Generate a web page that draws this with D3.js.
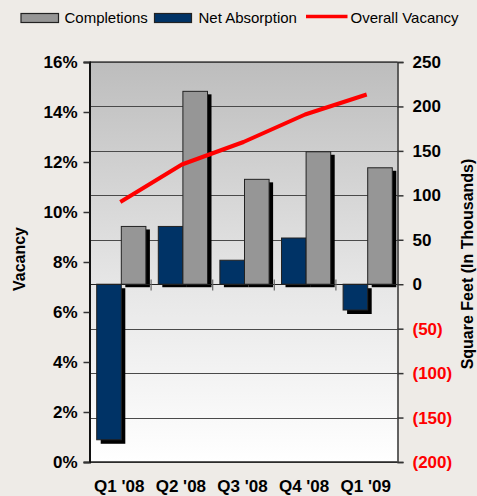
<!DOCTYPE html>
<html>
<head>
<meta charset="utf-8">
<script src="https://cdn.jsdelivr.net/npm/d3@7"></script>
<style>
  html, body { margin: 0; padding: 0; background: #EEEBE7; }
  svg { display: block; font-family: "Liberation Sans", Arial, sans-serif; }
</style>
</head>
<body>
<svg id="chart" width="477" height="496"></svg>
<script>
// ---- data ----
const categories = ["Q1 '08", "Q2 '08", "Q3 '08", "Q4 '08", "Q1 '09"];
const completions = [65, 217, 118, 149, 131];
const netAbsorption = [-175, 65, 27, 52, -29];
const vacancy = [0.104, 0.119, 0.128, 0.139, 0.147];
const leftTicks = [0, 0.02, 0.04, 0.06, 0.08, 0.10, 0.12, 0.14, 0.16];
const rightTicks = [-200, -150, -100, -50, 0, 50, 100, 150, 200, 250];
const seriesNames = ["Completions", "Net Absorption", "Overall Vacancy"];

// ---- layout ----
const svg = d3.select("#chart");
const L = 89.5, R = 397.5, T = 62, B = 462;

const x = d3.scaleBand().domain(categories).range([L, R]).paddingInner(0).paddingOuter(0);
const xi = d3.scaleBand().domain(["net", "comp"]).range([7.2, 56.4]).padding(0);
const yL = d3.scaleLinear().domain([0, 0.16]).range([B, T]);
const yR = d3.scaleLinear().domain([-200, 250]).range([B, T]);

// background gradient
const defs = svg.append("defs");
const grad = defs.append("linearGradient").attr("id", "bg").attr("x1", 0).attr("y1", 0).attr("x2", 0).attr("y2", 1);
grad.append("stop").attr("offset", "0%").attr("stop-color", "#bdbdbd");
grad.append("stop").attr("offset", "55%").attr("stop-color", "#e6e6e6");
grad.append("stop").attr("offset", "100%").attr("stop-color", "#ffffff");

svg.append("rect").attr("x", L).attr("y", T).attr("width", R - L).attr("height", B - T).attr("fill", "url(#bg)");

// gridlines at right-axis ticks
svg.append("g").selectAll("line").data(rightTicks.filter(d => d !== 0)).join("line")
  .attr("x1", L).attr("x2", R)
  .attr("y1", d => Math.round(yR(d)) + 0.5).attr("y2", d => Math.round(yR(d)) + 0.5)
  .attr("stroke", "#4a4a4a").attr("stroke-width", 1);

// bars
const bars = svg.append("g");
const barData = [];
categories.forEach((c, i) => {
  barData.push({ cat: c, key: "net", v: netAbsorption[i], fill: "#003366" });
  barData.push({ cat: c, key: "comp", v: completions[i], fill: "#969696" });
});
barData.forEach(d => {
  const bx = x(d.cat) + xi(d.key);
  const w = xi.bandwidth();
  const y0 = yR(0), y1 = yR(d.v);
  const top = Math.min(y0, y1), h = Math.abs(y1 - y0);
  bars.append("rect").attr("x", bx + 4).attr("y", top + (d.v >= 0 ? 3 : 4)).attr("width", w).attr("height", h)
    .attr("fill", "#000");
  bars.append("rect").attr("x", bx).attr("y", top).attr("width", w).attr("height", h)
    .attr("fill", d.fill).attr("stroke", "#222").attr("stroke-width", 1);
});

// zero (category) axis
const y0 = Math.round(yR(0)) + 0.5;
svg.append("line").attr("x1", L).attr("x2", R).attr("y1", y0).attr("y2", y0).attr("stroke", "#222").attr("stroke-width", 1.2);
svg.append("g").selectAll("line").data(categories.slice(1)).join("line")
  .attr("x1", d => x(d)).attr("x2", d => x(d)).attr("y1", y0 - 5).attr("y2", y0 + 6)
  .attr("stroke", "#666").attr("stroke-width", 1.2);

// plot frame top/bottom
svg.append("line").attr("x1", L).attr("x2", R).attr("y1", T).attr("y2", T).attr("stroke", "#444").attr("stroke-width", 1.5);
svg.append("line").attr("x1", L).attr("x2", R).attr("y1", B).attr("y2", B).attr("stroke", "#222").attr("stroke-width", 1.5);

// vacancy line
const line = d3.line().x((d, i) => x(categories[i]) + x.bandwidth() / 2).y(d => yL(d));
svg.append("path").datum(vacancy).attr("d", line).attr("fill", "none")
  .attr("stroke", "#ff0000").attr("stroke-width", 4).attr("stroke-linejoin", "round");

// left axis
const axL = svg.append("g").attr("transform", `translate(${L},0)`)
  .call(d3.axisLeft(yL).tickValues(leftTicks).tickFormat(d3.format(".0%")).tickSize(6).tickPadding(6));
axL.select(".domain").attr("stroke", "#111").attr("stroke-width", 2);
axL.selectAll(".tick line").attr("stroke", "#333").attr("stroke-width", 1.5);
axL.selectAll(".tick text").attr("font-size", 17).attr("font-weight", "bold").attr("fill", "#000")
  .attr("font-family", "Liberation Sans, Arial, sans-serif");

// right axis
const axR = svg.append("g").attr("transform", `translate(${R},0)`)
  .call(d3.axisRight(yR).tickValues(rightTicks).tickFormat(d => d < 0 ? `(${-d})` : `${d}`).tickSize(6).tickPadding(9));
axR.select(".domain").attr("stroke", "#333").attr("stroke-width", 1.5);
axR.selectAll(".tick line").attr("stroke", "#333").attr("stroke-width", 1.5);
axR.selectAll(".tick text").attr("font-size", 17).attr("font-weight", "bold")
  .attr("fill", d => d < 0 ? "#ff0000" : "#000")
  .attr("font-family", "Liberation Sans, Arial, sans-serif");

// x labels
svg.append("g").selectAll("text").data(categories).join("text")
  .attr("x", d => x(d) + x.bandwidth() / 2 - 1).attr("y", 492)
  .attr("text-anchor", "middle").attr("font-size", 17).attr("font-weight", "bold").attr("fill", "#000")
  .text(d => d);

// axis titles
svg.append("text").attr("transform", "translate(25,259) rotate(-90)")
  .attr("text-anchor", "middle").attr("font-size", 16).attr("font-weight", "bold").text("Vacancy");
svg.append("text").attr("transform", "translate(473,264) rotate(-90)")
  .attr("text-anchor", "middle").attr("font-size", 16).attr("font-weight", "bold").text("Square Feet (In Thousands)");

// legend
const lg = svg.append("g");
lg.append("rect").attr("x", 21).attr("y", 13.5).attr("width", 37.5).attr("height", 9)
  .attr("fill", "#969696").attr("stroke", "#222").attr("stroke-width", 1.2);
lg.append("text").attr("x", 64.5).attr("y", 22.5).attr("font-size", 15).text(seriesNames[0]);
lg.append("rect").attr("x", 154.5).attr("y", 13.5).attr("width", 37).attr("height", 9)
  .attr("fill", "#003366").attr("stroke", "#222").attr("stroke-width", 1.2);
lg.append("text").attr("x", 198.5).attr("y", 22.5).attr("font-size", 15).text(seriesNames[1]);
lg.append("line").attr("x1", 306).attr("x2", 347.5).attr("y1", 16.5).attr("y2", 16.5)
  .attr("stroke", "#ff0000").attr("stroke-width", 3.5);
lg.append("text").attr("x", 350.5).attr("y", 22.5).attr("font-size", 15).text(seriesNames[2]);
</script>
</body>
</html>
